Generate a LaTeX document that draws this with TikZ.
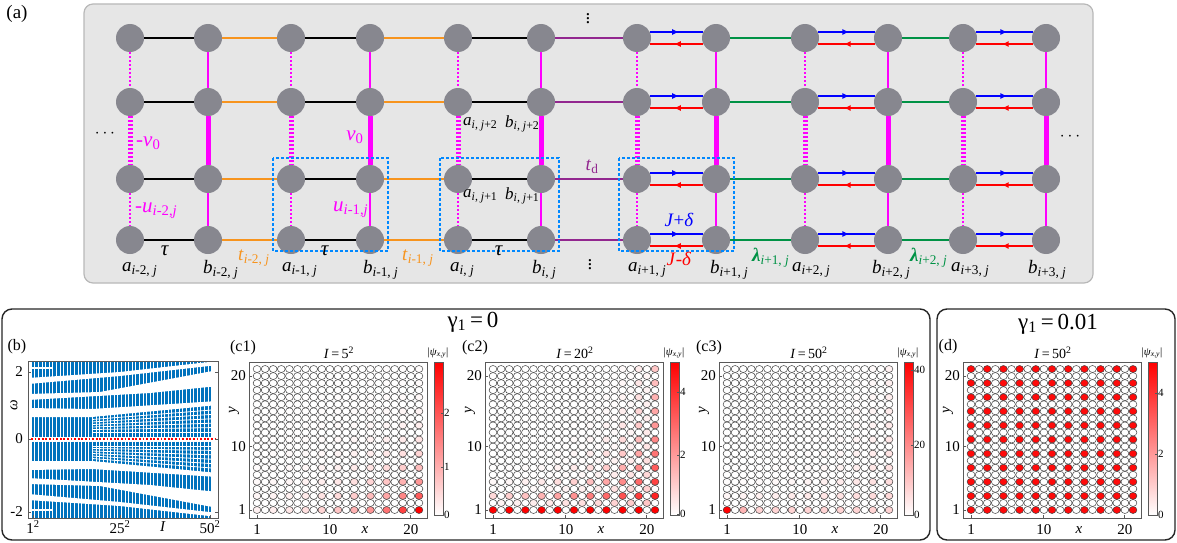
\documentclass[tikz,border=0pt]{standalone}
\usepackage{fontspec}
\setmainfont{Liberation Serif}
\usetikzlibrary{arrows.meta, decorations.markings, positioning}

\definecolor{sitegray}{RGB}{135,135,143}
\definecolor{hoporange}{RGB}{247,148,30}
\definecolor{hoppurple}{RGB}{146,39,143}
\definecolor{hopgreen}{RGB}{0,146,69}
\definecolor{hopmag}{RGB}{255,0,255}
\definecolor{cellblue}{RGB}{0,136,255}
\definecolor{bandblue}{RGB}{0,114,189}
\definecolor{panelgray}{RGB}{230,230,230}

\newcommand{\vi}[1]{\textit{#1}}
\newcommand{\sitelab}[3]{\vi{#1}\textsubscript{\vi{i}#2, \vi{j}#3}}

\tikzstyle{site} = [circle, fill=sitegray, minimum size=28pt, inner sep=0pt]
\tikzstyle{intra} = [black, line width=2pt]
\tikzstyle{hopt} = [hoporange, line width=2.2pt]
\tikzstyle{hopd} = [hoppurple, line width=2.2pt]
\tikzstyle{hopl} = [hopgreen, line width=2.4pt]
\tikzstyle{vsolid} = [hopmag, line width=2.4pt]
\tikzstyle{vsolidw} = [hopmag, line width=5pt]
\tikzstyle{vdash} = [hopmag, line width=2.4pt, dash pattern=on 2pt off 2pt]
\tikzstyle{vdashw} = [hopmag, line width=5pt, dash pattern=on 2pt off 2pt]
\tikzstyle{gain} = [blue, line width=1.6pt, postaction={decorate},
	decoration={markings, mark=at position 0.55 with {\arrow{Latex[length=7pt, width=6pt]}}}]
\tikzstyle{loss} = [red, line width=1.6pt, postaction={decorate},
	decoration={markings, mark=at position 0.55 with {\arrow{Latex[length=7pt, width=6pt]}}}]
\tikzstyle{cellbox} = [draw=cellblue, line width=2.2pt, dash pattern=on 3pt off 2pt]
\tikzstyle{lab} = [inner sep=0pt, font=\fontsize{19}{21}\selectfont]
\tikzstyle{smlab} = [inner sep=0pt, font=\fontsize{17}{19}\selectfont]
\tikzstyle{biglab} = [inner sep=0pt, font=\fontsize{21}{23}\selectfont]
\tikzstyle{panelbox} = [draw=black!85, line width=1.4pt, fill=white, rounded corners=10pt]
\tikzstyle{axisline} = [draw=black!65, line width=0.9pt]
\tikzstyle{ring} = [draw=black!75, line width=0.5pt]
\tikzstyle{ticklab} = [inner sep=1pt, font=\fontsize{15}{16}\selectfont]
\tikzstyle{cblab} = [inner sep=1pt, font=\fontsize{11}{12}\selectfont]
\tikzstyle{ttl} = [inner sep=1pt, font=\fontsize{14}{15}\selectfont]
\tikzstyle{hdr} = [inner sep=1pt, font=\fontsize{23}{24}\selectfont]
\tikzstyle{plab} = [inner sep=1pt, font=\fontsize{16}{17}\selectfont]

% one |psi| map: #1 left edge, #2 red amount, #3 title, #4 name
\newcommand{\dotpanel}[4]{%
	\foreach \ix in {1,...,21}
		\foreach \iy in {1,...,21} {
			\pgfmathsetmacro{\pv}{#2}
			\filldraw[ring, fill=red!\pv!white] ({#1+8+(\ix-1)*8.1},{510-(\iy-1)*7.05})
				ellipse [x radius=3.9pt, y radius=3.5pt];
		}
	\draw[axisline] (#1,362) rectangle ({#1+178},518);
	\foreach \t in {1,10,20} {
		\draw[axisline] ({#1+8+(\t-1)*8.1},518) -- ++(0,-3);
		\draw[axisline] (#1,{510-(\t-1)*7.05}) -- ++(3,0);
		\node[ticklab] (#4x\t) at ({#1+8+(\t-1)*8.1},530) {\t};
		\node[ticklab, anchor=east] (#4y\t) at ({#1-2},{510-(\t-1)*7.05}) {\t};
	}
	\node[ticklab] (#4xl) at ({#1+116},530) {\vi{x}};
	\node[ticklab, rotate=90] (#4yl) at ({#1-15},410) {\vi{y}};
	\node[ttl] (#4t) at ({#1+90},353) {#3};
	\shade[bottom color=white, top color=red] ({#1+185},362) rectangle ({#1+194},515);
	\draw[axisline, line width=0.7pt] ({#1+185},362) rectangle ({#1+194},515);
	\node[cblab] (#4cb) at ({#1+189},353) {|\vi{ψ}\textsubscript{\vi{x},\vi{y}}|};
}
\newcommand{\cbtick}[3]{%
	\draw[axisline, line width=0.6pt] ({#1+194},#2) -- ++(-2.5,0);
	\node[cblab, anchor=west] at ({#1+194},#2) {#3};
}

\begin{document}
\begin{tikzpicture}[x=1pt, y=-1pt]
	\useasboundingbox (0,0) rectangle (1177,543);

	%Panel (a)
	\node[lab] (pa) at (17,14) {(a)};
	\draw[fill=panelgray, draw=black!28, line width=1.2pt, rounded corners=9pt] (84,4) rectangle (1093,283);

	%Place nodes
	\foreach \c/\x in {1/130,2/208,3/291,4/370,5/458,6/541,7/637,8/716,9/805,10/888,11/963,12/1046}
		\foreach \r/\y in {1/38,2/102,3/179,4/240}
			\node[site] (s\c-\r) at (\x,\y) {};

	%Draw edges
	\foreach \a/\b in {1/2,3/4,5/6}
		\foreach \r in {1,...,4}
			\draw[intra] (s\a-\r) -- (s\b-\r);
	\foreach \a/\b in {2/3,4/5}
		\foreach \r in {1,...,4}
			\draw[hopt] (s\a-\r) -- (s\b-\r);
	\foreach \r in {1,...,4}
		\draw[hopd] (s6-\r) -- (s7-\r);
	\foreach \a/\b in {8/9,10/11}
		\foreach \r in {1,...,4}
			\draw[hopl] (s\a-\r) -- (s\b-\r);
	\foreach \a/\b in {7/8,9/10,11/12}
		\foreach \r in {1,...,4} {
			\draw[gain] (s\a-\r.25) -- (s\b-\r.155);
			\draw[loss] (s\b-\r.-155) -- (s\a-\r.-25);
		}
	\foreach \c in {1,3,5,7,9,11} {
		\draw[vdash] (s\c-1) -- (s\c-2);
		\draw[vdashw] (s\c-2) -- (s\c-3);
		\draw[vdash] (s\c-3) -- (s\c-4);
	}
	\foreach \c in {2,4,6,8,10,12} {
		\draw[vsolid] (s\c-1) -- (s\c-2);
		\draw[vsolidw] (s\c-2) -- (s\c-3);
		\draw[vsolid] (s\c-3) -- (s\c-4);
	}

	%Unit cells
	\draw[cellbox] ([shift={(-18,-21)}]s3-3.center) rectangle ([shift={(18,11)}]s4-4.center);
	\draw[cellbox] ([shift={(-18,-21)}]s5-3.center) rectangle ([shift={(18,11)}]s6-4.center);
	\draw[cellbox] ([shift={(-18,-21)}]s7-3.center) rectangle ([shift={(18,11)}]s8-4.center);

	%Labels
	\node[lab] (dl) at (105,134) {$\cdots$};
	\node[lab] (dr) at (1070,137) {$\cdots$};
	\node[lab] (dt) at (588,16) {$\vdots$};
	\node[lab] (db) at (590,262) {$\vdots$};
	\node[biglab, hopmag, anchor=west] (mv) at (136,143) {-\vi{v}\textsubscript{0}};
	\node[biglab, hopmag] (pv) at (355,137) {\vi{v}\textsubscript{0}};
	\node[biglab, hopmag, anchor=west] (mu) at (135,211) {-\vi{u}\textsubscript{\vi{i}-2,\vi{j}}};
	\node[biglab, hopmag, anchor=west] (pu) at (333,210) {\vi{u}\textsubscript{\vi{i}-1,\vi{j}}};
	\node[biglab] (tau1) at (165,251) {\vi{τ}};
	\node[biglab] (tau2) at (325,251) {\vi{τ}};
	\node[biglab] (tau3) at (499,251) {\vi{τ}};
	\node[lab, hoporange, anchor=west] (t1) at (238,258) {\vi{t}\textsubscript{\vi{i}-2, \vi{j}}};
	\node[lab, hoporange, anchor=west] (t2) at (402,258) {\vi{t}\textsubscript{\vi{i}-1, \vi{j}}};
	\node[lab, hoppurple] (td) at (592,167) {\vi{t}\textsubscript{d}};
	\node[lab, blue] (jp) at (679,220) {\vi{J}+\vi{δ}};
	\node[lab, red] (jm) at (679,259) {\vi{J}-\vi{δ}};
	\node[lab, hopgreen, anchor=west] (l1) at (752,258) {\textbf{\vi{λ}}\textsubscript{\vi{i}+1, \vi{j}}};
	\node[lab, hopgreen, anchor=west] (l2) at (910,258) {\textbf{\vi{λ}}\textsubscript{\vi{i}+2, \vi{j}}};
	\node[smlab, anchor=west] (aj2) at (463,124) {\sitelab{a}{}{+2}};
	\node[smlab, anchor=west] (bj2) at (505,124) {\sitelab{b}{}{+2}};
	\node[smlab, anchor=west] (aj1) at (463,196) {\sitelab{a}{}{+1}};
	\node[smlab, anchor=west] (bj1) at (505,196) {\sitelab{b}{}{+1}};
	\node[lab, anchor=west] (la1) at ([shift={(-8,30)}]s1-4) {\sitelab{a}{-2}{}};
	\node[lab, anchor=west] (lb1) at ([shift={(-5,30)}]s2-4) {\sitelab{b}{-2}{}};
	\node[lab, anchor=west] (la2) at ([shift={(-9,30)}]s3-4) {\sitelab{a}{-1}{}};
	\node[lab, anchor=west] (lb2) at ([shift={(-7,30)}]s4-4) {\sitelab{b}{-1}{}};
	\node[lab, anchor=west] (la3) at ([shift={(-8,30)}]s5-4) {\sitelab{a}{}{}};
	\node[lab, anchor=west] (lb3) at ([shift={(-9,30)}]s6-4) {\sitelab{b}{}{}};
	\node[lab, anchor=west] (la4) at ([shift={(-9,30)}]s7-4) {\sitelab{a}{+1}{}};
	\node[lab, anchor=west] (lb4) at ([shift={(-6,30)}]s8-4) {\sitelab{b}{+1}{}};
	\node[lab, anchor=west] (la5) at ([shift={(-13,30)}]s9-4) {\sitelab{a}{+2}{}};
	\node[lab, anchor=west] (lb5) at ([shift={(-16,30)}]s10-4) {\sitelab{b}{+2}{}};
	\node[lab, anchor=west] (la6) at ([shift={(-12,30)}]s11-4) {\sitelab{a}{+3}{}};
	\node[lab, anchor=west] (lb6) at ([shift={(-18,30)}]s12-4) {\sitelab{b}{+3}{}};

	%Bottom panels
	\draw[panelbox] (2,309) rectangle (930,540);
	\draw[panelbox] (937,309) rectangle (1175,540);
	\node[hdr] (g0) at (473,322) {γ\textsubscript{1}\,=\,0};
	\node[hdr] (g1) at (1058,324) {γ\textsubscript{1}\,=\,0.01};
	\node[plab] (pb) at (17,347) {(b)};
	\node[plab] (pc1) at (243,348) {(c1)};
	\node[plab] (pc2) at (475,348) {(c2)};
	\node[plab] (pc3) at (709,348) {(c3)};
	\node[plab] (pd) at (948,347) {(d)};

	%Spectrum (b)
	\begin{scope}
		\clip (28,361) rectangle (218,518);
		\foreach \n in {1,...,50} {
			\draw[bandblue, line width=2.6pt] ({33+(\n-1)*3.61},355) -- ({33+(\n-1)*3.61},436.5);
			\draw[bandblue, line width=2.6pt] ({33+(\n-1)*3.61},441.5) -- ({33+(\n-1)*3.61},525);
		}
		\foreach \s in {1,-1} {
			\begin{scope}[shift={(0,439)}, yscale=\s]
				\draw[white, line width=1.5pt] (28,-71) -- (52,-71);
				\fill[white] (28,-61) -- (120,-67) -- (218,-78) -- (218,-74) -- (120,-63) -- (28,-55) -- cycle;
				\fill[white] (28,-45) -- (100,-47) -- (218,-69) -- (218,-53) -- (150,-46) -- (28,-39) -- cycle;
				\fill[white] (28,-31) -- (92,-30) -- (218,-38) -- (218,-34) -- (92,-22) -- (28,-22) -- cycle;
				\foreach \k in {1,...,6}
					\draw[white, line width=0.8pt] (92,{-22+\k*2.5}) -- (218,{-34+\k*4.5});
			\end{scope}
		}
		\draw[red, line width=2pt, dash pattern=on 1.8pt off 1.8pt] (31,439) -- (216,439);
	\end{scope}
	\draw[axisline] (28,361) rectangle (218,518);
	\foreach \w/\y in {2/372,0/439,-2/512} {
		\draw[axisline] (28,\y) -- ++(3,0);
		\draw[axisline] (218,\y) -- ++(-3,0);
		\node[ticklab, anchor=east] (w\y) at (24,\y) {\w};
	}
	\foreach \n/\x in {1/33,25/120,50/210} {
		\draw[axisline] (\x,518) -- ++(0,-3);
		\node[ticklab] (I\n) at (\x,527) {\n\textsuperscript{2}};
	}
	\node[ticklab] (Il) at (163,527) {\vi{I}};
	\node[ticklab, rotate=90] (wl) at (14,405) {\vi{ω}};

	%Maps (c1)-(c3), (d)
	\dotpanel{249}{mod(\ix,2)*mod(\iy,2)*100*exp(-0.15*(21-\ix)-0.225*(\iy-1))}{\vi{I}\,=\,5\textsuperscript{2}}{ca}
	\cbtick{249}{515}{0}
	\cbtick{249}{467}{1}
	\cbtick{249}{413}{2}

	\dotpanel{485}{mod(\ix,2)*mod(\iy,2)*100*exp(-(0.15+1.75*((21-\ix)/20)*(0.6+0.4*(21-\ix)/20))*(\iy-1)/2) + (1-mod(\ix,2))*(1-mod(\iy,2))*28*exp(-(0.15+1.75*((21-\ix)/20)*(0.6+0.4*(21-\ix)/20))*\iy/2)}{\vi{I}\,=\,20\textsuperscript{2}}{cb}
	\cbtick{485}{514}{0}
	\cbtick{485}{455}{2}
	\cbtick{485}{392}{4}

	\dotpanel{719}{mod(\ix,2)*mod(\iy,2)*(17*exp(-0.8*(0.15+1.75*((21-\ix)/20)*(0.6+0.4*(21-\ix)/20))*(\iy-1)/2) + (\ix==1)*(\iy==1)*83 + (\ix==3)*(\iy==1)*12)}{\vi{I}\,=\,50\textsuperscript{2}}{cc}
	\cbtick{719}{515}{0}
	\cbtick{719}{445}{20}
	\cbtick{719}{370}{40}

	\dotpanel{963}{mod(\ix,2)*mod(\iy,2)*96}{\vi{I}\,=\,50\textsuperscript{2}}{cd}
	\cbtick{963}{515}{0}
	\cbtick{963}{454}{2}
	\cbtick{963}{393}{4}
\end{tikzpicture}
\end{document}
